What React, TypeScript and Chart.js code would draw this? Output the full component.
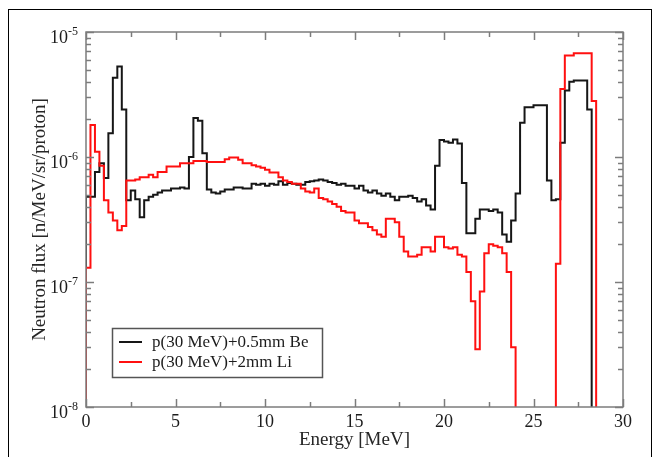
import { useEffect, useRef } from "react";
import { Chart, registerables } from "chart.js";

Chart.register(...registerables);

// Histogram binning (MeV)
const BIN_START = 0;
const BIN_WIDTH = 0.25;

// Neutron flux per 0.25 MeV bin [n/MeV/sr/proton], 0 = empty bin
const beFlux = [
  4.8e-7, 4.8e-7, 7.6e-7, 8.9e-7, 6.8e-7, 1.55e-6, 4.3e-6, 5.3e-6,
  2.4e-6, 4.5e-7, 5.4e-7, 4.6e-7, 3.3e-7, 4.5e-7, 4.8e-7, 5.0e-7,
  5.2e-7, 5.4e-7, 5.4e-7, 5.6e-7, 5.6e-7, 5.7e-7, 5.6e-7, 1.0e-6,
  2.05e-6, 1.95e-6, 1.07e-6, 5.5e-7, 5.2e-7, 5.1e-7, 5.3e-7, 5.5e-7,
  5.5e-7, 5.7e-7, 5.7e-7, 5.6e-7, 5.6e-7, 6.1e-7, 6.0e-7, 6.1e-7,
  5.9e-7, 6.1e-7, 6.0e-7, 6.4e-7, 6.0e-7, 6.2e-7, 6.1e-7, 6.0e-7,
  6.0e-7, 6.3e-7, 6.4e-7, 6.5e-7, 6.6e-7, 6.5e-7, 6.3e-7, 6.2e-7,
  6.0e-7, 6.1e-7, 5.9e-7, 5.9e-7, 5.6e-7, 5.9e-7, 5.4e-7, 5.2e-7,
  5.4e-7, 5.1e-7, 4.9e-7, 5.1e-7, 4.8e-7, 4.5e-7, 4.8e-7, 4.8e-7,
  4.9e-7, 4.7e-7, 4.4e-7, 4.6e-7, 4.1e-7, 3.8e-7, 8.5e-7, 1.37e-6,
  1.33e-6, 1.3e-6, 1.38e-6, 1.28e-6, 6.2e-7, 2.45e-7, 2.45e-7, 3.2e-7,
  3.8e-7, 3.8e-7, 3.7e-7, 3.8e-7, 3.6e-7, 2.4e-7, 2.1e-7, 3.1e-7,
  5.1e-7, 1.88e-6, 2.5e-6, 2.5e-6, 2.6e-6, 2.6e-6, 2.6e-6, 6.5e-7,
  4.5e-7, 4.6e-7, 1.3e-6, 3.4e-6, 4.0e-6, 4.1e-6, 4.1e-6, 4.1e-6,
  2.4e-6, 0, 0, 0, 0, 0, 0, 0,
];

const liFlux = [
  1.3e-7, 1.8e-6, 1.1e-6, 8.5e-7, 4.5e-7, 3.6e-7, 3.1e-7, 2.6e-7,
  2.8e-7, 6.5e-7, 6.5e-7, 6.6e-7, 6.9e-7, 6.9e-7, 7.2e-7, 6.9e-7,
  7.6e-7, 7.6e-7, 8.4e-7, 8.4e-7, 8.4e-7, 8.9e-7, 8.9e-7, 8.9e-7,
  9.3e-7, 9.3e-7, 9.3e-7, 9.1e-7, 9.1e-7, 9.1e-7, 9.1e-7, 9.6e-7,
  9.9e-7, 9.9e-7, 9.5e-7, 8.9e-7, 8.9e-7, 8.6e-7, 8.4e-7, 8.2e-7,
  7.9e-7, 7.5e-7, 7.5e-7, 6.9e-7, 6.5e-7, 6.3e-7, 6.1e-7, 6.1e-7,
  5.6e-7, 5.3e-7, 5.2e-7, 5.6e-7, 4.7e-7, 4.6e-7, 4.4e-7, 4.2e-7,
  4.0e-7, 3.7e-7, 3.6e-7, 3.6e-7, 3.1e-7, 2.95e-7, 2.95e-7, 2.75e-7,
  2.6e-7, 2.4e-7, 2.3e-7, 3.2e-7, 3.2e-7, 3.0e-7, 2.3e-7, 1.75e-7,
  1.6e-7, 1.6e-7, 1.65e-7, 1.9e-7, 1.9e-7, 1.75e-7, 2.3e-7, 2.3e-7,
  1.9e-7, 1.85e-7, 1.9e-7, 1.65e-7, 1.6e-7, 1.2e-7, 7.0e-8, 2.9e-8,
  8.4e-8, 1.7e-7, 2.0e-7, 1.95e-7, 1.9e-7, 1.7e-7, 1.2e-7, 3.0e-8,
  0, 0, 0, 0, 0, 0, 0, 0,
  0, 1.4e-7, 3.5e-6, 6.5e-6, 6.5e-6, 6.75e-6, 6.75e-6, 6.75e-6,
  6.75e-6, 2.8e-6, 0, 0, 0, 0, 0, 0,
];

const seriesLabels = ["p(30 MeV)+0.5mm Be", "p(30 MeV)+2mm Li"];
const seriesColors = ["#161616", "#ff1010"];

const xMajorTicks = [0, 5, 10, 15, 20, 25, 30];
const xMinorTicks = [2.5, 7.5, 12.5, 17.5, 22.5, 27.5];
const yDecadeExponents = [-8, -7, -6, -5];

const X_MIN = 0;
const X_MAX = 30;
const Y_MIN = 1e-8;
const Y_MAX = 1e-5;
// empty bins drop below the visible range
const EMPTY_LEVEL = 1e-10;

const SERIF = '"Liberation Serif", "Times New Roman", serif';

function toSteps(values: number[]) {
  const pts: { x: number; y: number }[] = [{ x: BIN_START, y: EMPTY_LEVEL }];
  values.forEach((v, i) => {
    pts.push({ x: BIN_START + i * BIN_WIDTH, y: v > 0 ? v : EMPTY_LEVEL });
  });
  const last = values[values.length - 1];
  pts.push({
    x: BIN_START + values.length * BIN_WIDTH,
    y: last > 0 ? last : EMPTY_LEVEL,
  });
  return pts;
}

const decorPlugin = {
  id: "graceDecor",
  beforeDraw(chart: any) {
    const { ctx, width, height } = chart;
    ctx.save();
    ctx.fillStyle = "#ffffff";
    ctx.fillRect(0, 0, width, height);
    ctx.restore();
  },
  afterDatasetsDraw(chart: any) {
    const { ctx, chartArea: a } = chart;
    const xs = chart.scales.x;
    const ys = chart.scales.y;
    ctx.save();
    ctx.strokeStyle = "#7c7c7c";
    ctx.lineWidth = 1.5;
    ctx.strokeRect(a.left, a.top, a.right - a.left, a.bottom - a.top);

    const line = (x1: number, y1: number, x2: number, y2: number) => {
      ctx.beginPath();
      ctx.moveTo(x1, y1);
      ctx.lineTo(x2, y2);
      ctx.stroke();
    };

    // x ticks, bottom and top, pointing inward
    const xTick = (v: number, len: number) => {
      const px = Math.round(xs.getPixelForValue(v)) + 0.5;
      line(px, a.bottom, px, a.bottom - len);
      line(px, a.top, px, a.top + len);
    };
    xMajorTicks.forEach((v) => xTick(v, 8));
    xMinorTicks.forEach((v) => xTick(v, 5));

    // y ticks, left and right
    const yTick = (v: number, len: number) => {
      const py = Math.round(ys.getPixelForValue(v)) + 0.5;
      line(a.left, py, a.left + len, py);
      line(a.right, py, a.right - len, py);
    };
    yDecadeExponents.forEach((e) => {
      const base = Math.pow(10, e);
      yTick(base, 8);
      if (base < Y_MAX) {
        for (let k = 2; k <= 9; k++) yTick(k * base, 5);
      }
    });
    ctx.restore();
  },
  afterDraw(chart: any) {
    const { ctx, chartArea: a } = chart;
    const xs = chart.scales.x;
    const ys = chart.scales.y;
    ctx.save();
    ctx.fillStyle = "#1c1c1c";

    // x tick labels
    ctx.font = `18px ${SERIF}`;
    ctx.textAlign = "center";
    ctx.textBaseline = "alphabetic";
    xMajorTicks.forEach((v) => {
      ctx.fillText(String(v), xs.getPixelForValue(v), a.bottom + 20);
    });

    // y tick labels as 10^n
    yDecadeExponents.forEach((e) => {
      const py = ys.getPixelForValue(Math.pow(10, e));
      const expText = String(e);
      ctx.font = `12px ${SERIF}`;
      const expW = ctx.measureText(expText).width;
      const right = a.left - 8;
      ctx.textAlign = "left";
      ctx.fillText(expText, right - expW, py + 3);
      ctx.font = `18px ${SERIF}`;
      ctx.textAlign = "right";
      ctx.fillText("10", right - expW, py + 11);
    });

    // axis titles
    ctx.font = `19px ${SERIF}`;
    ctx.fillStyle = "#262626";
    ctx.textAlign = "center";
    ctx.textBaseline = "alphabetic";
    ctx.fillText("Energy [MeV]", (a.left + a.right) / 2, a.bottom + 38);
    ctx.save();
    ctx.translate(40, (a.top + a.bottom) / 2);
    ctx.rotate(-Math.PI / 2);
    ctx.textBaseline = "middle";
    ctx.fillText("Neutron flux [n/MeV/sr/proton]", 0, 0);
    ctx.restore();

    // legend box
    const lx = 112;
    const ly = 328;
    const lw = 210;
    const lh = 49;
    ctx.fillStyle = "#ffffff";
    ctx.fillRect(lx, ly, lw, lh);
    ctx.strokeStyle = "#555555";
    ctx.lineWidth = 1.5;
    ctx.strokeRect(lx + 0.5, ly + 0.5, lw, lh);
    seriesLabels.forEach((label, i) => {
      const cy = ly + 14 + i * 20;
      ctx.strokeStyle = seriesColors[i];
      ctx.lineWidth = 2;
      ctx.beginPath();
      ctx.moveTo(lx + 7, cy);
      ctx.lineTo(lx + 30, cy);
      ctx.stroke();
      ctx.fillStyle = "#1c1c1c";
      ctx.font = `17px ${SERIF}`;
      ctx.textAlign = "left";
      ctx.textBaseline = "middle";
      ctx.fillText(label, lx + 40, cy + 1);
    });

    // outer figure border
    ctx.strokeStyle = "#000000";
    ctx.lineWidth = 1;
    ctx.strokeRect(8.5, 9.5, 643, 520);
    ctx.restore();
  },
};

export default function App() {
  const canvasRef = useRef<HTMLCanvasElement | null>(null);

  useEffect(() => {
    const canvas = canvasRef.current;
    if (!canvas) return;
    const chart = new Chart(canvas, {
      type: "line",
      data: {
        datasets: [
          {
            label: seriesLabels[0],
            data: toSteps(beFlux),
            borderColor: seriesColors[0],
            borderWidth: 2,
            stepped: true,
            pointRadius: 0,
            fill: false,
            order: 1,
          },
          {
            label: seriesLabels[1],
            data: toSteps(liFlux),
            borderColor: seriesColors[1],
            borderWidth: 2,
            stepped: true,
            pointRadius: 0,
            fill: false,
            order: 0,
          },
        ],
      },
      options: {
        animation: false,
        responsive: false,
        devicePixelRatio: 1,
        parsing: false,
        layout: { padding: { left: 86, right: 37, top: 32, bottom: 50 } },
        scales: {
          x: { type: "linear", min: X_MIN, max: X_MAX, display: false },
          y: { type: "logarithmic", min: Y_MIN, max: Y_MAX, display: false },
        },
        plugins: {
          legend: { display: false },
          tooltip: { enabled: false },
        },
      },
      plugins: [decorPlugin],
    });
    return () => chart.destroy();
  }, []);

  return (
    <div style={{ position: "fixed", left: 0, top: 0, width: 660, height: 457, overflow: "hidden" }}>
      <canvas ref={canvasRef} width={660} height={457} style={{ display: "block" }} />
    </div>
  );
}
